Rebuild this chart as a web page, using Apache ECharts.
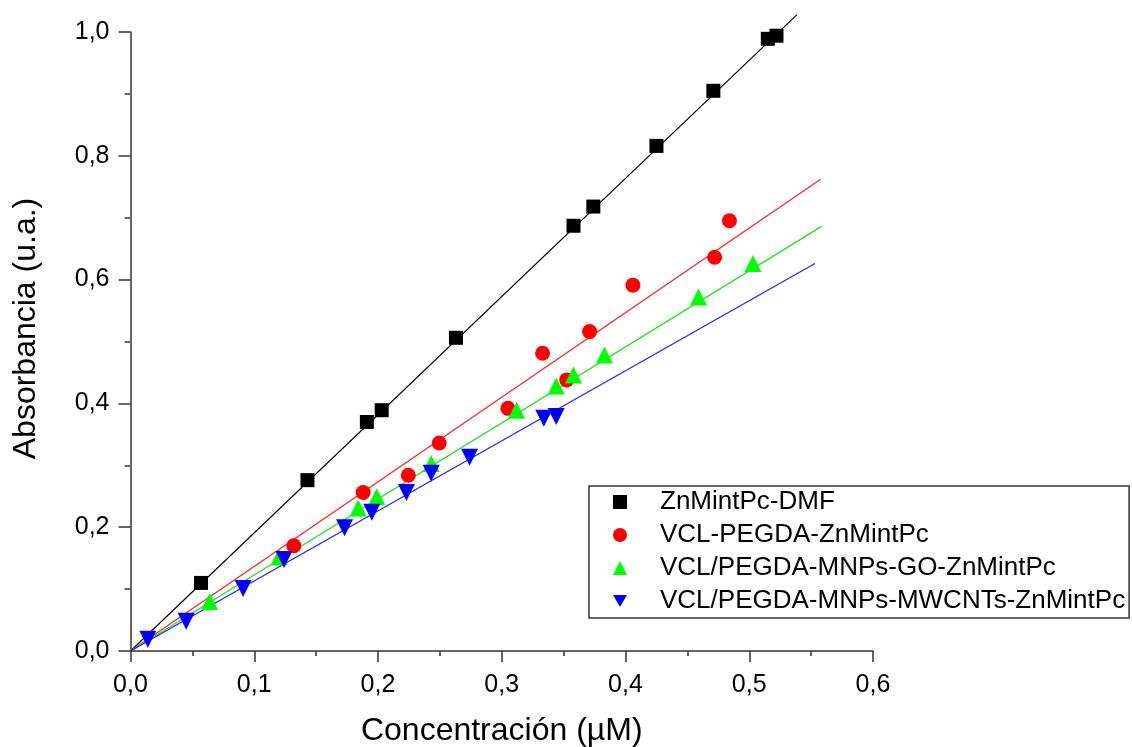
<!DOCTYPE html>
<html>
<head>
<meta charset="utf-8">
<script src="https://cdn.jsdelivr.net/npm/echarts@6/dist/echarts.min.js"></script>
<style>
html,body{margin:0;padding:0;background:#fff;}
#chart{width:1132px;height:747px;}
</style>
</head>
<body>
<div id="chart"></div>
<script>
// Data
const seriesNames = ['ZnMintPc-DMF', 'VCL-PEGDA-ZnMintPc', 'VCL/PEGDA-MNPs-GO-ZnMintPc', 'VCL/PEGDA-MNPs-MWCNTs-ZnMintPc'];

const xBlack = [0.057, 0.143, 0.191, 0.203, 0.263, 0.358, 0.374, 0.425, 0.471, 0.515, 0.522];
const yBlack = [0.110, 0.276, 0.370, 0.389, 0.506, 0.687, 0.718, 0.816, 0.905, 0.989, 0.994];

const xRed = [0.132, 0.188, 0.2245, 0.2495, 0.305, 0.333, 0.3525, 0.371, 0.406, 0.472, 0.484];
const yRed = [0.170, 0.256, 0.284, 0.336, 0.392, 0.481, 0.438, 0.516, 0.591, 0.636, 0.695];

const xGreen = [0.064, 0.120, 0.184, 0.199, 0.243, 0.312, 0.344, 0.358, 0.383, 0.459, 0.503];
const yGreen = [0.080, 0.152, 0.231, 0.249, 0.303, 0.389, 0.428, 0.446, 0.478, 0.572, 0.626];

const xBlue = [0.014, 0.045, 0.091, 0.124, 0.173, 0.195, 0.223, 0.243, 0.274, 0.334, 0.344];
const yBlue = [0.019, 0.048, 0.101, 0.148, 0.199, 0.224, 0.256, 0.287, 0.313, 0.376, 0.379];

// Linear fit lines: start and end points
const fitBlackX = [0, 0.5386];
const fitBlackY = [0, 1.028];
const fitRedX = [0, 0.5577];
const fitRedY = [0, 0.762];
const fitGreenX = [0, 0.5585];
const fitGreenY = [0, 0.686];
const fitBlueX = [0, 0.5531];
const fitBlueY = [0, 0.626];

const xTickLabels = ['0,0', '0,1', '0,2', '0,3', '0,4', '0,5', '0,6'];
const yTickLabels = ['0,0', '0,2', '0,4', '0,6', '0,8', '1,0'];

const pairs = (xs, ys) => xs.map((x, i) => [x, ys[i]]);

const FONT = '"Liberation Sans", Arial, sans-serif';
const AXIS_COLOR = '#333333';
const DOWN_TRI = 'path://M0,0L10,0L5,8.7Z';

const chart = echarts.init(document.getElementById('chart'), null, {renderer: 'canvas'});

function fitLine(name, xs, ys, color) {
  return {
    name: name, type: 'line', data: pairs(xs, ys), showSymbol: false, symbol: 'none',
    clip: false, silent: true, z: 2,
    lineStyle: {color: color, width: 1.2}
  };
}
function pts(name, xs, ys, color, symbol, size, rot) {
  return {
    name: name, type: 'scatter', data: pairs(xs, ys), symbol: symbol, symbolSize: size,
    symbolRotate: rot || 0, clip: false, z: 3,
    itemStyle: {color: color, opacity: 1}
  };
}

const option = {
  backgroundColor: '#ffffff',
  animation: false,
  grid: {left: 130.5, right: 259, top: 32, bottom: 96, containLabel: false, outerBoundsMode: 'none'},
  xAxis: {
    type: 'value', min: 0, max: 0.6, interval: 0.1,
    name: 'Concentración (µM)', nameLocation: 'middle', nameGap: 64,
    nameTextStyle: {fontFamily: FONT, fontSize: 32, color: '#000'},
    axisLine: {show: true, onZero: false, lineStyle: {color: AXIS_COLOR, width: 1.5}},
    axisTick: {show: true, inside: false, length: 11, lineStyle: {color: AXIS_COLOR, width: 1.5}},
    minorTick: {show: true, splitNumber: 2, length: 5, lineStyle: {color: AXIS_COLOR, width: 1.5}},
    splitLine: {show: false},
    axisLabel: {fontFamily: FONT, fontSize: 25, color: '#000', margin: 22,
      formatter: (v) => xTickLabels[Math.round(v * 10)]}
  },
  yAxis: {
    type: 'value', min: 0, max: 1.0, interval: 0.2,
    name: 'Absorbancia (u.a.)', nameLocation: 'middle', nameGap: 88, nameRotate: 90,
    nameTextStyle: {fontFamily: FONT, fontSize: 32, color: '#000', padding: [0, 0, 0, 26]},
    axisLine: {show: true, onZero: false, lineStyle: {color: AXIS_COLOR, width: 1.5}},
    axisTick: {show: true, inside: false, length: 12, lineStyle: {color: AXIS_COLOR, width: 1.5}},
    minorTick: {show: true, splitNumber: 2, length: 6, lineStyle: {color: AXIS_COLOR, width: 1.5}},
    splitLine: {show: false},
    axisLabel: {fontFamily: FONT, fontSize: 25, color: '#000', margin: 21,
      formatter: (v) => yTickLabels[Math.round(v * 5)]}
  },
  legend: {
    show: true, orient: 'vertical', left: 589, top: 486,
    data: [
      {name: seriesNames[0], icon: 'rect'},
      {name: seriesNames[1], icon: 'circle'},
      {name: seriesNames[2], icon: 'triangle'},
      {name: seriesNames[3], icon: DOWN_TRI}
    ],
    borderColor: AXIS_COLOR, borderWidth: 1.5, borderRadius: 0,
    padding: [3, 4, 4, 24],
    itemWidth: 14, itemHeight: 14, itemGap: 7,
    textStyle: {fontFamily: FONT, fontSize: 26, color: '#000', lineHeight: 26, padding: [0, 0, 0, 28]},
    selectedMode: false
  },
  series: [
    fitLine('fitBlack', fitBlackX, fitBlackY, '#000000'),
    fitLine('fitRed', fitRedX, fitRedY, '#ff2020'),
    fitLine('fitGreen', fitGreenX, fitGreenY, '#20e020'),
    fitLine('fitBlue', fitBlueX, fitBlueY, '#2020ff'),
    pts(seriesNames[0], xBlack, yBlack, '#000000', 'rect', 14),
    pts(seriesNames[1], xRed, yRed, '#ff0000', 'circle', 15),
    pts(seriesNames[2], xGreen, yGreen, '#00ff00', 'triangle', 17),
    pts(seriesNames[3], xBlue, yBlue, '#0000ff', 'triangle', 17, 180)
  ]
};
chart.setOption(option);
</script>
</body>
</html>
